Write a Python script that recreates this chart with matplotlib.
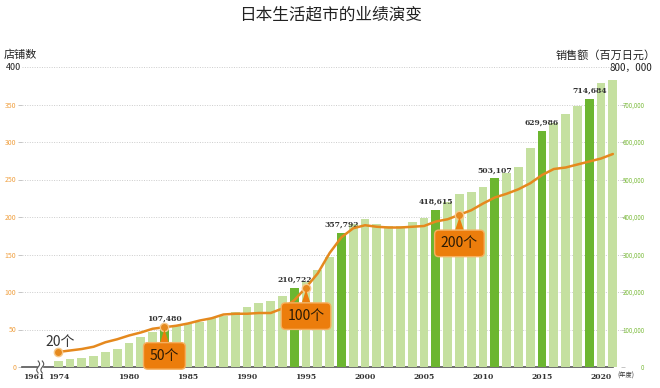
import numpy as np
import matplotlib
matplotlib.use("Agg")
import matplotlib.pyplot as plt

plt.rcParams["font.family"] = ["Noto Sans CJK SC", "DejaVu Sans"]

# data
years = list(range(1974, 2022))
sales = [
    17000, 21000, 24000, 29000, 40000, 48000, 65000, 81000, 93000, 107480,
    110000, 115000, 121000, 130000, 137000, 146000, 159000, 171000, 176000, 190000,
    210722, 228000, 259000, 294000, 357792, 382000, 394000, 381000, 376000, 376000,
    386000, 398000, 418615, 440000, 462000, 467000, 479000, 503107, 518000, 534000,
    585000, 629986, 650000, 676000, 697000, 714684, 757000, 765000,
]
stores = [
    20, 22, 24, 27, 33, 37, 42, 46, 51, 53,
    55, 58, 62, 65, 70, 71, 71, 72, 72, 78,
    89, 106, 125, 152, 173, 185, 189, 187, 186, 186,
    187, 188, 194, 197, 203, 209, 218, 226, 231, 237,
    245, 256, 264, 266, 270, 274, 278, 284,
]
highlight_years = [1983, 1994, 1998, 2006, 2011, 2015, 2019]
milestone_years = [1974, 1983, 1995, 2008]
milestone_labels = ["20个", "50个", "100个", "200个"]
xtick_years = [1974, 1980, 1985, 1990, 1995, 2000, 2005, 2010, 2015, 2020]
left_ticks = [0, 50, 100, 150, 200, 250, 300, 350]
right_ticks = [0, 100000, 200000, 300000, 400000, 500000, 600000, 700000]

LIGHT = "#c5e0a0"
DARK = "#6cb630"
ORANGE = "#e5891e"
BOX = "#ec7d0c"

fig = plt.figure(figsize=(6.6, 3.88), dpi=100)
ax = fig.add_axes([22 / 660, 21 / 388, 599 / 660, 300 / 388])
ax2 = ax.twinx()

x0, x1 = 1970.93, 2021.69
ax.set_xlim(x0, x1)
ax.set_ylim(0, 400)
ax2.set_ylim(0, 800000)

# bars on the sales axis
colors = [DARK if y in highlight_years else LIGHT for y in years]
ax2.bar(years, sales, width=0.74, color=colors, zorder=2)
for y, v in zip(years, sales):
    if y in highlight_years:
        ax2.annotate(f"{v:,}", (y, v), xytext=(0, 3), textcoords="offset points",
                     ha="center", va="bottom", fontsize=5.5, fontweight="bold",
                     family="DejaVu Serif", color="#333333", zorder=5)

# store count line on a separate overlay so it sits above the bars
ax3 = fig.add_axes(ax.get_position(), sharex=ax)
ax3.set_ylim(0, 400)
ax3.axis("off")
ax3.plot(years, stores, color=ORANGE, lw=1.8, zorder=3, solid_capstyle="round")

for y, lab in zip(milestone_years, milestone_labels):
    s = stores[years.index(y)]
    ax3.plot(y, s, "o", ms=6, color=ORANGE, mec="#f7c98a", mew=1.0, zorder=4)
    if lab == "20个":
        ax3.text(y + 0.2, s + 13, lab, ha="center", va="center", fontsize=10,
                 color="#333333")
    else:
        ax3.annotate(lab, (y, s - 3), xytext=(0, -19), textcoords="offset points",
                     ha="center", va="center", fontsize=10, color="#2a1a05",
                     bbox=dict(boxstyle="round,pad=0.45,rounding_size=0.3",
                               fc=BOX, ec="#f5b060", lw=1),
                     arrowprops=dict(arrowstyle="wedge,tail_width=0.6,shrink_factor=0.5",
                                     fc=BOX, ec=BOX, lw=0, shrinkA=0, shrinkB=0),
                     zorder=5)

# grid and axes styling
for v in left_ticks[1:] + [400]:
    ax.axhline(v, color="#cccccc", lw=0.7, ls=(0, (1, 1.5)), zorder=0)

for a in (ax, ax2):
    for sp in a.spines.values():
        sp.set_visible(False)

ax.set_yticks(left_ticks)
ax.set_yticklabels([str(v) for v in left_ticks], fontsize=5, color="#f0a040")
ax.tick_params(axis="y", length=3, width=0.6, color="#bbbbbb", pad=1)

ax2.set_yticks(right_ticks)
ax2.set_yticklabels([f"{v:,}" for v in right_ticks], fontsize=4.5, color="#7cbc3c")
ax2.tick_params(axis="y", length=3, width=0.6, color="#bbbbbb", pad=14)
for lab in ax2.get_yticklabels():
    lab.set_horizontalalignment("right")

ax.set_xticks([1971.9] + xtick_years)
ax.set_xticklabels(["1961"] + [str(y) for y in xtick_years], fontsize=5.5,
                   fontweight="bold", family="DejaVu Serif", color="#333333")
ax.tick_params(axis="x", length=0, pad=4)

# bottom axis line with a break mark
ax.plot([x0, 1972.2], [0, 0], color="#555555", lw=1.2, clip_on=False, zorder=6)
ax.plot([1972.8, 2021.0], [0, 0], color="#555555", lw=1.2, clip_on=False, zorder=6)
t = np.linspace(-1, 1, 30)
for bx in (1972.3, 1972.65):
    ax.plot(bx + 0.12 * np.sin(t * np.pi), t * 8, color="#555555", lw=0.8,
            clip_on=False, zorder=6)

# texts
fig.text(0.5, 1 - 15 / 388, "日本生活超市的业绩演变", ha="center", va="center",
         fontsize=12, color="#222222")
fig.text(4 / 660, 1 - 55 / 388, "店铺数", ha="left", va="center", fontsize=8,
         color="#222222")
fig.text(656 / 660, 1 - 55 / 388, "销售额（百万日元）", ha="right", va="center",
         fontsize=8, color="#222222")
fig.text(6 / 660, 1 - 68 / 388, "400", ha="left", va="center", fontsize=6.5,
         color="#222222")
fig.text(652 / 660, 1 - 68 / 388, "800，000", ha="right", va="center", fontsize=7,
         color="#222222")
fig.text(617 / 660, 1 - 376 / 388, "(年度)", ha="left", va="center", fontsize=4.5,
         color="#333333")

fig.savefig("out.png", dpi=100, facecolor="white")
